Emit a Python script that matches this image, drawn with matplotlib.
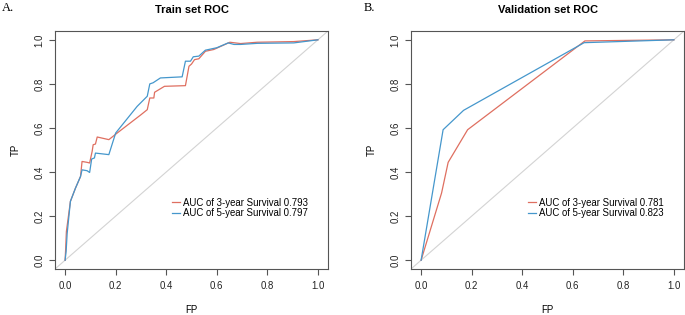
import matplotlib
matplotlib.use("Agg")
import matplotlib.pyplot as plt

# ----- data -----
train_fp_3y = [0.0, 0.002, 0.005, 0.021, 0.041, 0.061, 0.067, 0.087, 0.097, 0.107, 0.111,
               0.120, 0.127, 0.173, 0.206, 0.300, 0.325, 0.335, 0.351, 0.354, 0.393,
               0.476, 0.490, 0.500, 0.512, 0.529, 0.555, 0.588, 0.652, 0.694, 0.760,
               0.905, 1.0]
train_tp_3y = [0.0, 0.047, 0.13, 0.267, 0.327, 0.380, 0.448, 0.444, 0.441, 0.494, 0.524,
               0.527, 0.559, 0.547, 0.577, 0.660, 0.683, 0.736, 0.736, 0.762, 0.789,
               0.792, 0.880, 0.890, 0.910, 0.914, 0.948, 0.956, 0.989, 0.983, 0.989,
               0.992, 1.0]

train_fp_5y = [0.0, 0.004, 0.008, 0.021, 0.041, 0.061, 0.067, 0.087, 0.097, 0.105, 0.116,
               0.120, 0.173, 0.200, 0.285, 0.325, 0.335, 0.348, 0.377, 0.463, 0.476,
               0.496, 0.507, 0.529, 0.555, 0.600, 0.645, 0.668, 0.694, 0.760, 0.905,
               1.0]
train_tp_5y = [0.0, 0.04, 0.12, 0.267, 0.327, 0.380, 0.410, 0.406, 0.398, 0.459, 0.464,
               0.486, 0.479, 0.577, 0.698, 0.744, 0.800, 0.805, 0.827, 0.832, 0.903,
               0.903, 0.923, 0.926, 0.953, 0.964, 0.986, 0.979, 0.979, 0.984, 0.986,
               1.0]

valid_fp_3y = [0.0, 0.081, 0.107, 0.184, 0.648, 1.0]
valid_tp_3y = [0.0, 0.305, 0.444, 0.592, 0.995, 1.0]
valid_fp_5y = [0.0, 0.087, 0.168, 0.645, 1.0]
valid_tp_5y = [0.0, 0.592, 0.680, 0.987, 1.0]

panels = [
    ("A.", "Train set ROC", train_fp_3y, train_tp_3y, train_fp_5y, train_tp_5y, "0.793", "0.797"),
    ("B.", "Validation set ROC", valid_fp_3y, valid_tp_3y, valid_fp_5y, valid_tp_5y, "0.781", "0.823"),
]
ticks = [0.0, 0.2, 0.4, 0.6, 0.8, 1.0]

RED = "#DF6F60"
BLUE = "#4597CC"
W, H = 685, 315

plt.rcParams["font.family"] = ["Liberation Sans", "DejaVu Sans"]

fig = plt.figure(figsize=(W / 100, H / 100), dpi=100)

for i, (letter, title, fp3, tp3, fp5, tp5, auc3, auc5) in enumerate(panels):
    x0 = 55 if i == 0 else 411
    ax = fig.add_axes([x0 / W, 1 - 269 / H, 273 / W, 238 / H])
    ax.plot([-0.1, 1.1], [-0.1, 1.1], color="#D3D3D3", lw=0.8, zorder=1)
    ax.plot(fp3, tp3, color=RED, lw=0.9, label="AUC of 3-year Survival " + auc3, zorder=2)
    ax.plot(fp5, tp5, color=BLUE, lw=0.9, label="AUC of 5-year Survival " + auc5, zorder=3)
    ax.set_xlim(-0.04, 1.04)
    ax.set_ylim(-0.04, 1.04)
    ax.set_xticks(ticks)
    ax.set_yticks(ticks)
    ax.set_xticklabels([f"{t:.1f}" for t in ticks])
    ax.set_yticklabels([f"{t:.1f}" for t in ticks])
    for sp in ax.spines.values():
        sp.set_color("#555555")
        sp.set_linewidth(0.8)
    ax.tick_params(length=4.3, width=0.8, color="#555555", labelsize=6.9,
                   labelcolor="#222222")
    ax.tick_params(axis="x", pad=4.5)
    ax.tick_params(axis="y", pad=7)
    for lab in ax.get_yticklabels():
        lab.set_rotation(90)
        lab.set_ha("center")
        lab.set_va("center")
    ax.legend(loc="center left", bbox_to_anchor=(0.428, 0.256), frameon=False,
              fontsize=6.9, handlelength=0.85, handletextpad=0.35, labelspacing=0.05,
              borderpad=0, borderaxespad=0)

    cx = (x0 + 136.5) / W
    fig.text(cx, 1 - 13 / H, title, ha="center", va="baseline", fontsize=8, fontweight="bold")
    fig.text(cx, 1 - 310 / H, "FP", ha="center", va="center", fontsize=6.9)
    fig.text((x0 - 39) / W, 1 - 150 / H, "TP", ha="center", va="center", rotation=90, fontsize=6.9)
    lx = 2 if i == 0 else 364
    fig.text(lx / W, 1 - 11 / H, letter, ha="left", va="baseline", fontsize=9,
             family=["Liberation Serif", "DejaVu Serif"])

fig.savefig("out.png", dpi=100)
